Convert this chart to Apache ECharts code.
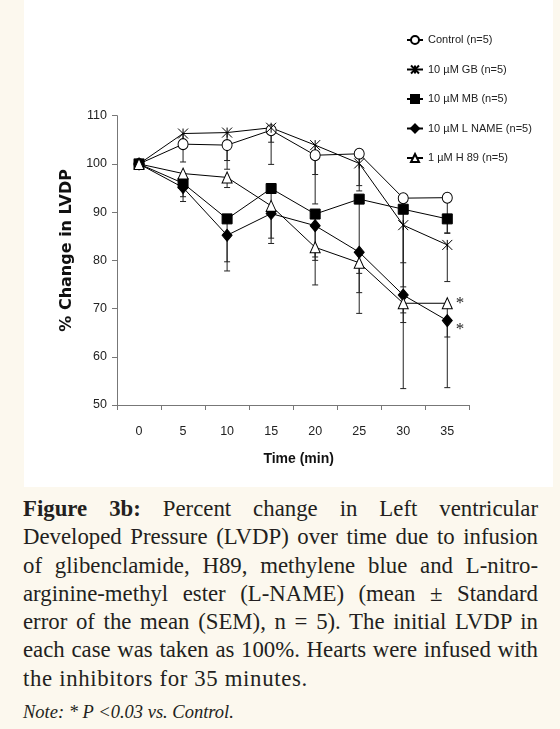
<!DOCTYPE html>
<html>
<head>
<meta charset="utf-8">
<script src="https://cdn.jsdelivr.net/npm/echarts@6/dist/echarts.min.js"></script>
<style>
  html, body { margin: 0; padding: 0; }
  body { width: 560px; height: 729px; background: #fcf8ee; position: relative; overflow: hidden; }
  #panel { position: absolute; left: 24px; top: 0; width: 529px; height: 487px; background: #ffffff; }
  #chart { position: absolute; left: 0; top: 0; width: 560px; height: 490px; }
  #cap { position: absolute; left: 23px; top: 495px; width: 515px; font-family: 'Liberation Serif', 'Times New Roman', serif; font-size: 22.8px; line-height: 28.3px; color: #231f20; }
  #cap .j { text-align: justify; text-align-last: justify; }
  #cap .last { letter-spacing: 0.65px; }
  #cap .note { font-style: italic; font-size: 18.5px; line-height: 22px; margin-top: 8px; }
</style>
</head>
<body>
<div id="panel"></div>
<div id="chart"></div>
<div id="cap">
  <div class="j"><b>Figure 3b:</b> Percent change in Left ventricular</div>
  <div class="j">Developed Pressure (LVDP) over time due to infusion</div>
  <div class="j">of glibenclamide, H89, methylene blue and L-nitro-</div>
  <div class="j">arginine-methyl ester (L-NAME) (mean ± Standard</div>
  <div class="j">error of the mean (SEM), n = 5). The initial LVDP in</div>
  <div class="j">each case was taken as 100%. Hearts were infused with</div>
  <div class="last">the inhibitors for 35 minutes.</div>
  <div class="note">Note: * P &lt;0.03 vs. Control.</div>
</div>
<script>
// ---- data ----
const categories = ['0', '5', '10', '15', '20', '25', '30', '35'];
const seriesNames = ['Control (n=5)', '10 \u00b5M GB (n=5)', '10 \u00b5M MB (n=5)', '10 \u00b5M L NAME (n=5)', '1 \u00b5M H 89 (n=5)'];
const control = [100, 104.1, 103.9, 107.0, 101.8, 102.1, 92.9, 93.0];
const gb      = [100, 106.3, 106.5, 107.5, 103.9, 100.1, 87.3, 83.2];
const mb      = [100, 96.0, 88.6, 94.9, 89.6, 92.7, 90.6, 88.6];
const lname   = [100, 95.1, 85.2, 89.7, 87.2, 81.7, 72.8, 67.5];
const h89     = [100, 98.0, 97.2, 91.3, 82.7, 79.5, 71.1, 71.1];
const controlSem = [0, 3.7, 3.2, 2.5, 4.0, 6.6, 13.4, 7.3];
const gbSem      = [0, 1.5, 7.6, 7.6, 12.2, 5.7, 18.2, 7.6];
const mbSem      = [0, 2.8, 8.9, 5.0, 8.9, 15.4, 16.1, 3.0];
const lnameSem   = [0, 2.9, 7.4, 5.1, 7.2, 8.4, 5.7, 13.9];
const h89Sem     = [0, 1.5, 2.1, 7.8, 7.8, 10.5, 17.7, 7.0];
const significant = ['', '', '', '', '', '', '', '*'];
const yTicks = { min: 50, max: 110, interval: 10 };

// ---- chart ----
const chart = echarts.init(document.getElementById('chart'), null, { renderer: 'canvas' });
const sans = "'Liberation Sans', Arial, sans-serif";

function errRender(params, api) {
  const x = api.value(0);
  const top = api.coord([x, api.value(1)]);
  const bot = api.coord([x, api.value(2)]);
  const cap = 3;
  return {
    type: 'group',
    children: [
      { type: 'line', shape: { x1: top[0], y1: top[1], x2: bot[0], y2: bot[1] }, style: { stroke: '#222', lineWidth: 1 } },
      { type: 'line', shape: { x1: bot[0] - cap, y1: bot[1], x2: bot[0] + cap, y2: bot[1] }, style: { stroke: '#222', lineWidth: 1 } }
    ]
  };
}
function errSeries(vals, sems) {
  return {
    type: 'custom',
    renderItem: errRender,
    z: 1,
    silent: true,
    encode: { x: 0, y: [1, 2] },
    data: vals.map((v, i) => [i, v, v - sems[i]]).filter((d, i) => sems[i] > 0)
  };
}
function withStar(vals, offsetY) {
  return vals.map((v, i) => significant[i] ? {
    value: v,
    label: { show: true, formatter: significant[i], position: 'right', distance: 3, offset: [0, offsetY],
             fontFamily: "'Liberation Serif', serif", fontSize: 17, color: '#222' }
  } : v);
}
const common = { type: 'line', z: 3, lineStyle: { color: '#000', width: 1 }, emphasis: { disabled: true } };

chart.setOption({
  animation: false,
  grid: { left: 117, right: 90.7, top: 115.7, bottom: 85 },
  legend: {
    orient: 'vertical', left: 401, top: 29.5, itemWidth: 16, itemHeight: 10, itemGap: 18.5,
    data: seriesNames,
    textStyle: { fontFamily: sans, fontSize: 11, color: '#222' }
  },
  xAxis: {
    type: 'category', data: categories, boundaryGap: true,
    name: 'Time (min)', nameLocation: 'middle', nameGap: 47,
    nameTextStyle: { fontFamily: sans, fontWeight: 'bold', fontSize: 14, color: '#111', padding: [0, 0, 0, 11] },
    axisLine: { lineStyle: { color: '#777', width: 1 } },
    axisTick: { show: true, length: 5, alignWithLabel: false, lineStyle: { color: '#777' } },
    axisLabel: { margin: 20, fontFamily: sans, fontSize: 12.5, color: '#222' }
  },
  yAxis: {
    type: 'value', min: yTicks.min, max: yTicks.max, interval: yTicks.interval,
    name: '% Change in LVDP', nameLocation: 'middle', nameGap: 38, nameRotate: 90,
    nameTextStyle: { fontFamily: "'DejaVu Sans', sans-serif", fontWeight: 'bold', fontSize: 16, color: '#111', padding: [0, 0, 0, 20] },
    splitLine: { show: false },
    axisLine: { show: true, lineStyle: { color: '#777', width: 1 } },
    axisTick: { show: true, length: 5, lineStyle: { color: '#777' } },
    axisLabel: { margin: 10, fontFamily: sans, fontSize: 12.5, color: '#222' }
  },
  series: [
    errSeries(control, controlSem), errSeries(gb, gbSem), errSeries(mb, mbSem),
    errSeries(lname, lnameSem), errSeries(h89, h89Sem),
    Object.assign({}, common, { name: seriesNames[0], data: control, symbol: 'circle', symbolSize: [10, 11],
      itemStyle: { color: '#fff', borderColor: '#000', borderWidth: 1 } }),
    Object.assign({}, common, { name: seriesNames[1], data: gb, symbol: 'path://M0,0L10,10M10,0L0,10M5,0L5,10', symbolSize: 10,
      itemStyle: { color: '#000', borderColor: '#000', borderWidth: 1 } }),
    Object.assign({}, common, { name: seriesNames[2], data: mb, symbol: 'rect', symbolSize: 10,
      itemStyle: { color: '#000', borderColor: '#000', borderWidth: 1 } }),
    Object.assign({}, common, { name: seriesNames[3], data: withStar(lname, 9), symbol: 'diamond', symbolSize: [10, 12],
      itemStyle: { color: '#000', borderColor: '#000', borderWidth: 1 } }),
    Object.assign({}, common, { name: seriesNames[4], data: withStar(h89, 0), symbol: 'triangle', symbolSize: [10, 11],
      itemStyle: { color: '#fff', borderColor: '#000', borderWidth: 1 } })
  ]
});
</script>
</body>
</html>
